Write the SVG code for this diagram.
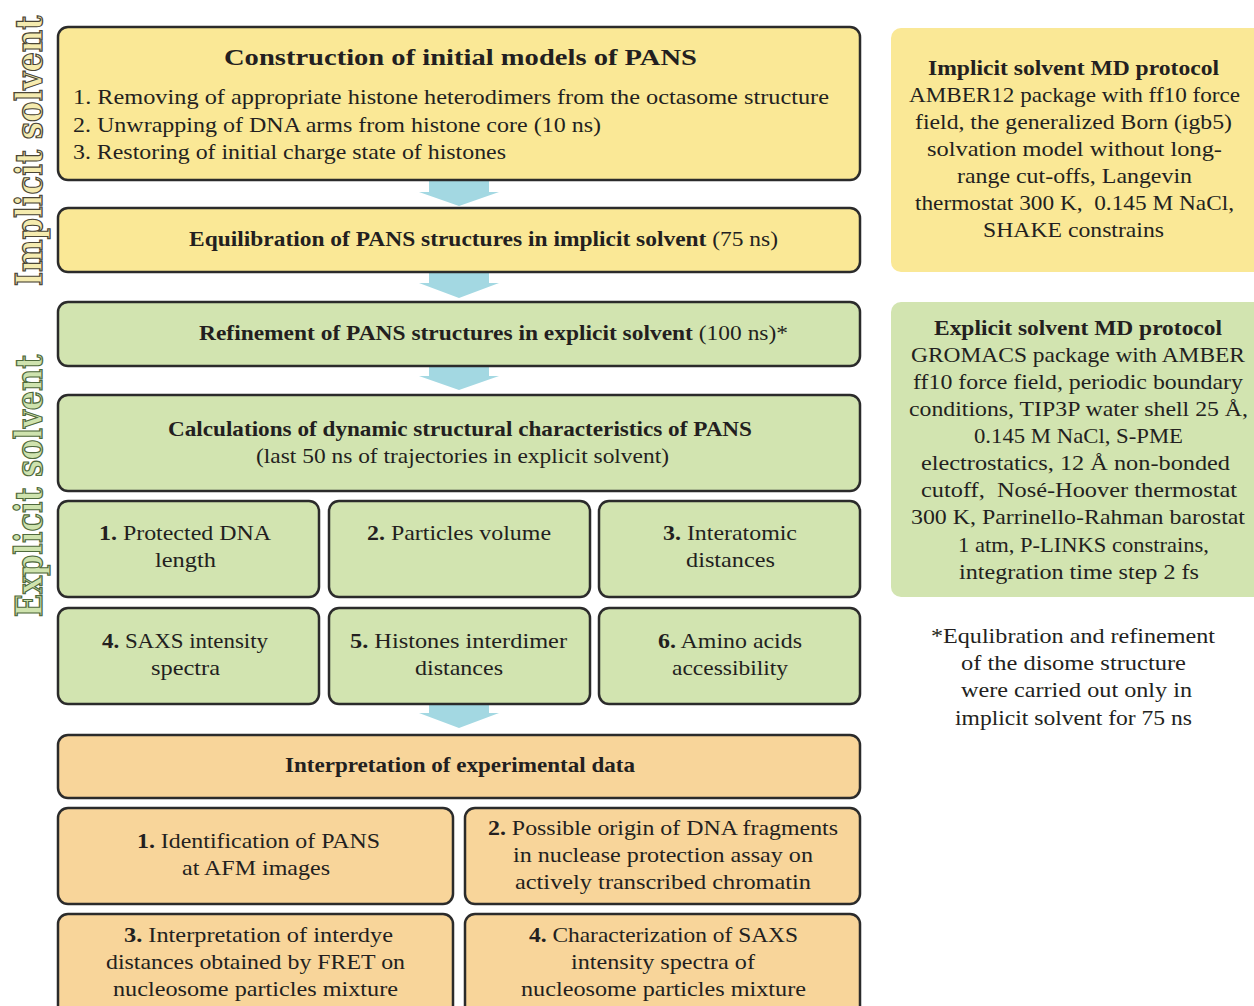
<svg xmlns="http://www.w3.org/2000/svg" width="1254" height="1006" viewBox="0 0 1254 1006">
<style>
text{font-family:"Liberation Serif","DejaVu Serif",serif;font-size:22px;fill:#231f20}
.c{text-anchor:middle}
.b{font-weight:bold}
.box{stroke:#2b2b2b;stroke-width:2.5}
.y{fill:#fae896}
.g{fill:#d2e4b0}
.o{fill:#f8d59a}
.arr{fill:#a3d8e2}
.side{font-family:"DejaVu Serif",serif;font-size:38px;font-weight:bold;stroke-width:1.3;text-anchor:middle}
</style>
<rect width="1254" height="1006" fill="#ffffff"/>

<g id="label-implicit">
<text class="side" x="0" y="0" transform="translate(42,151) rotate(-90) scale(0.81,1)" style="fill:#f5ebaf;stroke:#4a4536">Implicit solvent</text>
</g>
<g id="label-explicit">
<text class="side" x="0" y="0" transform="translate(42,486) rotate(-90) scale(0.8,1)" style="fill:#cfe3ae;stroke:#4f6a3c">Explicit solvent</text>
</g>

<g id="connectors">
<polygon class="arr" points="429,180 489,180 489,192 499,192 459,206 419,192 429,192"/>
<polygon class="arr" points="429,272 489,272 489,283 499,283 459,298 419,283 429,283"/>
<polygon class="arr" points="429,367 489,367 489,376 499,376 459,390 419,376 429,376"/>
<polygon class="arr" points="429,704 489,704 489,713 499,713 459,728 419,713 429,713"/>
</g>

<g id="n-construction">
<rect class="box y" x="58" y="27" width="802" height="153" rx="10"/>
<text class="c b" x="460.5" y="65" style="font-size:24px" textLength="473" lengthAdjust="spacingAndGlyphs">Construction of initial models of PANS</text>
<text x="73" y="104" textLength="756" lengthAdjust="spacingAndGlyphs">1. Removing of appropriate histone heterodimers from the octasome structure</text>
<text x="73" y="132" textLength="528" lengthAdjust="spacingAndGlyphs">2. Unwrapping of DNA arms from histone core (10 ns)</text>
<text x="73" y="159" textLength="433" lengthAdjust="spacingAndGlyphs">3. Restoring of initial charge state of histones</text>
</g>

<g id="n-equilibration">
<rect class="box y" x="58" y="208" width="802" height="64" rx="10"/>
<text x="189" y="246" textLength="589" lengthAdjust="spacingAndGlyphs"><tspan class="b">Equilibration of PANS structures in implicit solvent</tspan> (75 ns)</text>
</g>

<g id="n-refinement">
<rect class="box g" x="58" y="302" width="802" height="64" rx="10"/>
<text x="199" y="340" textLength="589" lengthAdjust="spacingAndGlyphs"><tspan class="b">Refinement of PANS structures in explicit solvent</tspan> (100 ns)*</text>
</g>

<g id="n-calculations">
<rect class="box g" x="58" y="395" width="802" height="96" rx="10"/>
<text class="c b" x="460" y="436" textLength="584" lengthAdjust="spacingAndGlyphs">Calculations of dynamic structural characteristics of PANS</text>
<text class="c" x="462.5" y="463" textLength="413" lengthAdjust="spacingAndGlyphs">(last 50 ns of trajectories in explicit solvent)</text>
</g>

<g id="n-c1">
<rect class="box g" x="58" y="501" width="261" height="96" rx="10"/>
<text class="c" x="185" y="540" textLength="172" lengthAdjust="spacingAndGlyphs"><tspan class="b">1.</tspan> Protected DNA</text>
<text class="c" x="185.5" y="567" textLength="61" lengthAdjust="spacingAndGlyphs">length</text>
</g>
<g id="n-c2">
<rect class="box g" x="329" y="501" width="261" height="96" rx="10"/>
<text class="c" x="459" y="540" textLength="184" lengthAdjust="spacingAndGlyphs"><tspan class="b">2.</tspan> Particles volume</text>
</g>
<g id="n-c3">
<rect class="box g" x="599" y="501" width="261" height="96" rx="10"/>
<text class="c" x="730" y="540" textLength="134" lengthAdjust="spacingAndGlyphs"><tspan class="b">3.</tspan> Interatomic</text>
<text class="c" x="730.5" y="567" textLength="89" lengthAdjust="spacingAndGlyphs">distances</text>
</g>
<g id="n-c4">
<rect class="box g" x="58" y="608" width="261" height="96" rx="10"/>
<text class="c" x="185" y="648" textLength="166" lengthAdjust="spacingAndGlyphs"><tspan class="b">4.</tspan> SAXS intensity</text>
<text class="c" x="185.5" y="675" textLength="69" lengthAdjust="spacingAndGlyphs">spectra</text>
</g>
<g id="n-c5">
<rect class="box g" x="329" y="608" width="261" height="96" rx="10"/>
<text class="c" x="458.5" y="648" textLength="217" lengthAdjust="spacingAndGlyphs"><tspan class="b">5.</tspan> Histones interdimer</text>
<text class="c" x="459" y="675" textLength="88" lengthAdjust="spacingAndGlyphs">distances</text>
</g>
<g id="n-c6">
<rect class="box g" x="599" y="608" width="261" height="96" rx="10"/>
<text class="c" x="730" y="648" textLength="144" lengthAdjust="spacingAndGlyphs"><tspan class="b">6.</tspan> Amino acids</text>
<text class="c" x="730" y="675" textLength="116" lengthAdjust="spacingAndGlyphs">accessibility</text>
</g>

<g id="n-interpretation">
<rect class="box o" x="58" y="735" width="802" height="63" rx="10"/>
<text class="c b" x="460" y="772" textLength="350" lengthAdjust="spacingAndGlyphs">Interpretation of experimental data</text>
</g>

<g id="n-i1">
<rect class="box o" x="58" y="808" width="395" height="96" rx="10"/>
<text class="c" x="258.5" y="848" textLength="243" lengthAdjust="spacingAndGlyphs"><tspan class="b">1.</tspan> Identification of PANS</text>
<text class="c" x="256" y="875" textLength="148" lengthAdjust="spacingAndGlyphs">at AFM images</text>
</g>
<g id="n-i2">
<rect class="box o" x="465" y="808" width="395" height="96" rx="10"/>
<text class="c" x="663" y="835" textLength="350" lengthAdjust="spacingAndGlyphs"><tspan class="b">2.</tspan> Possible origin of DNA fragments</text>
<text class="c" x="663" y="862" textLength="300" lengthAdjust="spacingAndGlyphs">in nuclease protection assay on</text>
<text class="c" x="663" y="889" textLength="296" lengthAdjust="spacingAndGlyphs">actively transcribed chromatin</text>
</g>
<g id="n-i3">
<rect class="box o" x="58" y="914" width="395" height="110" rx="10"/>
<text class="c" x="258.5" y="942" textLength="269" lengthAdjust="spacingAndGlyphs"><tspan class="b">3.</tspan> Interpretation of interdye</text>
<text class="c" x="255.5" y="969" textLength="299" lengthAdjust="spacingAndGlyphs">distances obtained by FRET on</text>
<text class="c" x="255.5" y="996" textLength="285" lengthAdjust="spacingAndGlyphs">nucleosome particles mixture</text>
</g>
<g id="n-i4">
<rect class="box o" x="465" y="914" width="395" height="110" rx="10"/>
<text class="c" x="663.5" y="942" textLength="269" lengthAdjust="spacingAndGlyphs"><tspan class="b">4.</tspan> Characterization of SAXS</text>
<text class="c" x="663" y="969" textLength="184" lengthAdjust="spacingAndGlyphs">intensity spectra of</text>
<text class="c" x="663.5" y="996" textLength="285" lengthAdjust="spacingAndGlyphs">nucleosome particles mixture</text>
</g>

<g id="n-implicit-protocol">
<rect x="891" y="28" width="380" height="244" rx="10" fill="#fae896"/>
<text class="c b" x="1073.5" y="75" textLength="291" lengthAdjust="spacingAndGlyphs">Implicit solvent MD protocol</text>
<text class="c" x="1074.5" y="102" textLength="331" lengthAdjust="spacingAndGlyphs">AMBER12 package with ff10 force</text>
<text class="c" x="1073.5" y="129" textLength="317" lengthAdjust="spacingAndGlyphs">field, the generalized Born (igb5)</text>
<text class="c" x="1074.5" y="156" textLength="295" lengthAdjust="spacingAndGlyphs">solvation model without long-</text>
<text class="c" x="1074.5" y="183" textLength="235" lengthAdjust="spacingAndGlyphs">range cut-offs, Langevin</text>
<text class="c" x="1074.5" y="210" textLength="319" lengthAdjust="spacingAndGlyphs" xml:space="preserve">thermostat 300 K,  0.145 M NaCl,</text>
<text class="c" x="1073.5" y="237" textLength="181" lengthAdjust="spacingAndGlyphs">SHAKE constrains</text>
</g>

<g id="n-explicit-protocol">
<rect x="891" y="302" width="380" height="295" rx="10" fill="#d2e4b0"/>
<text class="c b" x="1078" y="335" textLength="288" lengthAdjust="spacingAndGlyphs">Explicit solvent MD protocol</text>
<text class="c" x="1078" y="362" textLength="334" lengthAdjust="spacingAndGlyphs">GROMACS package with AMBER</text>
<text class="c" x="1078" y="389" textLength="330" lengthAdjust="spacingAndGlyphs">ff10 force field, periodic boundary</text>
<text class="c" x="1078.5" y="416" textLength="339" lengthAdjust="spacingAndGlyphs">conditions, TIP3P water shell 25 Å,</text>
<text class="c" x="1078.5" y="443" textLength="209" lengthAdjust="spacingAndGlyphs">0.145 M NaCl, S-PME</text>
<text class="c" x="1075.5" y="470" textLength="309" lengthAdjust="spacingAndGlyphs">electrostatics, 12 Å non-bonded</text>
<text class="c" x="1079" y="497" textLength="316" lengthAdjust="spacingAndGlyphs" xml:space="preserve">cutoff,  Nosé-Hoover thermostat</text>
<text class="c" x="1078" y="524" textLength="334" lengthAdjust="spacingAndGlyphs">300 K, Parrinello-Rahman barostat</text>
<text class="c" x="1083.5" y="552" textLength="251" lengthAdjust="spacingAndGlyphs">1 atm, P-LINKS constrains,</text>
<text class="c" x="1079" y="579" textLength="240" lengthAdjust="spacingAndGlyphs">integration time step 2 fs</text>
</g>

<g id="n-footnote">
<text class="c" x="1073" y="643" textLength="284" lengthAdjust="spacingAndGlyphs">*Equlibration and refinement</text>
<text class="c" x="1073.5" y="670" textLength="225" lengthAdjust="spacingAndGlyphs">of the disome structure</text>
<text class="c" x="1076.5" y="697" textLength="231" lengthAdjust="spacingAndGlyphs">were carried out only in</text>
<text class="c" x="1073.5" y="725" textLength="237" lengthAdjust="spacingAndGlyphs">implicit solvent for 75 ns</text>
</g>
</svg>
